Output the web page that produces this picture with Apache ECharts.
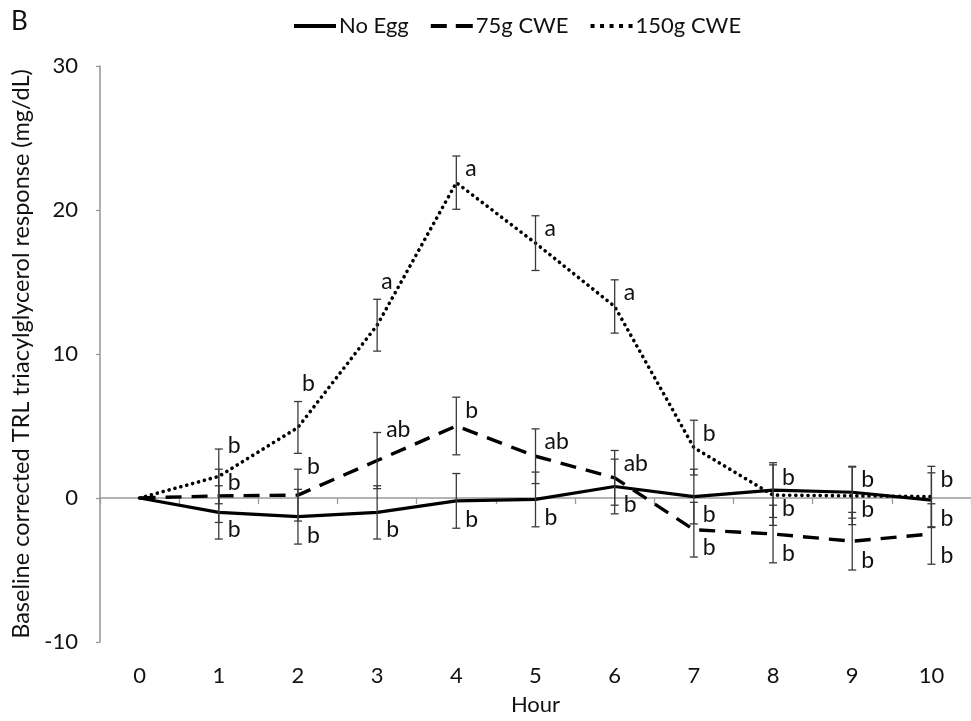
<!DOCTYPE html>
<html>
<head>
<meta charset="utf-8">
<script src="https://cdn.jsdelivr.net/npm/echarts@6/dist/echarts.min.js"></script>
<style>html,body{margin:0;padding:0;background:#fff}#c{width:971px;height:721px}</style>
</head>
<body>
<div id="c"></div>
<script>
const hours = ['0','1','2','3','4','5','6','7','8','9','10'];
const yTicks = [-10, 0, 10, 20, 30];

const noEgg  = [0, -1.0, -1.3, -1.0, -0.2, -0.1, 0.8, 0.1, 0.55, 0.4, -0.15];
const cwe75  = [0, 0.15, 0.2, 2.6, 5.0, 2.9, 1.4, -2.2, -2.5, -3.0, -2.5];
const cwe150 = [0, 1.5, 4.9, 12.0, 21.9, 17.7, 13.3, 3.5, 0.2, 0.15, 0.1];

const noEggSem  = [0, 1.85, 1.9, 1.85, 1.9, 1.9, 1.9, 1.9, 1.9, 1.8, 1.9];
const cwe75Sem  = [0, 1.85, 1.8, 1.95, 2.0, 1.9, 1.9, 1.9, 2.0, 2.0, 2.1];
const cwe150Sem = [0, 1.9, 1.8, 1.8, 1.85, 1.9, 1.85, 1.9, 2.1, 2.0, 2.1];

const noEggLetters  = ['', 'b','b','b','b','b','b','b','b','b','b'];
const cwe75Letters  = ['', 'b','b','ab','b','ab','ab','b','b','b','b'];
const cwe150Letters = ['', 'b','b','a','a','a','a','b','b','b','b'];

// where each letter sits relative to its error bar
const noEggPlace  = ['', 'below','below','below','below','below','below','below','below','below','below'];
const cwe75Place  = ['', 'upper','cap','cap','upper','upper','upper','below','below','below','below'];
const cwe150Place = ['', 'cap','above','above','upper','upper','upper','upper','upper','upper','upper'];

const FONT = 'Lato';
const FS = 22;
const chart = echarts.init(document.getElementById('c'));

function errSeries(id, values, sems, letters, places) {
  return {
    type: 'custom',
    name: id,
    xAxisIndex: 0, yAxisIndex: 0,
    silent: true,
    z: 5,
    data: values.map((v, i) => [i, v, sems[i]]),
    encode: { x: 0, y: 1 },
    renderItem(params, api) {
      const i = api.value(0), v = api.value(1), s = api.value(2);
      const top = api.coord([i, v + s]);
      const bot = api.coord([i, v - s]);
      const ch = [];
      const st = { stroke: '#3a3a3a', lineWidth: 1.3 };
      if (s > 0) {
        ch.push({ type: 'line', shape: { x1: top[0], y1: top[1], x2: bot[0], y2: bot[1] }, style: st });
        ch.push({ type: 'line', shape: { x1: top[0] - 4, y1: top[1], x2: top[0] + 4, y2: top[1] }, style: st });
        ch.push({ type: 'line', shape: { x1: bot[0] - 4, y1: bot[1], x2: bot[0] + 4, y2: bot[1] }, style: st });
      }
      const letter = letters[i];
      if (letter) {
        const p = places[i];
        let x = top[0] + 9, y;
        if (p === 'above') { y = top[1] - 18; x = top[0] + 4; }
        else if (p === 'cap') { y = top[1] - 3; }
        else if (p === 'upper') { y = top[1] + 13; }
        else { y = bot[1] - 9; }
        ch.push({ type: 'text', style: { text: letter, x, y, fill: '#111', font: '23px ' + FONT, textAlign: 'left', textVerticalAlign: 'middle' } });
      }
      return { type: 'group', children: ch };
    }
  };
}

const solidIcon  = 'path://M0,0h42v4h-42z';
const dashedIcon = 'path://M0,0h16v4h-16zM25,0h17v4h-17z';
const dottedIcon = 'path://M0,0h4v4h-4zM9.5,0h4v4h-4zM19,0h4v4h-4zM28.5,0h4v4h-4zM38,0h4v4h-4z';

chart.setOption({
  animation: false,
  backgroundColor: '#fff',
  textStyle: { fontFamily: FONT },
  graphic: [{ type: 'text', left: 11, top: 9, style: { text: 'B', font: '26px ' + FONT, fill: '#111' } }],
  legend: {
    data: [
      { name: 'No Egg', icon: solidIcon },
      { name: '75g CWE', icon: dashedIcon },
      { name: '150g CWE', icon: dottedIcon }
    ],
    top: 10, left: 289,
    itemWidth: 42, itemHeight: 4, itemGap: 22,
    itemStyle: { color: '#000', borderWidth: 0 },
    textStyle: { fontSize: FS, color: '#111', fontFamily: FONT, padding: [0, 0, 0, -2] }
  },
  grid: { left: 100, top: 66, bottom: 76, width: 874 },
  xAxis: [
    {
      type: 'category', data: hours, boundaryGap: true, position: 'bottom',
      axisLine: { show: false, onZero: false }, axisTick: { show: false },
      axisLabel: { margin: 23, fontSize: FS, color: '#111', fontFamily: FONT },
      name: 'Hour', nameLocation: 'middle', nameGap: 52,
      nameTextStyle: { fontSize: FS, color: '#111', fontFamily: FONT }
    },
    {
      type: 'category', data: hours, boundaryGap: true, position: 'top',
      axisLine: { show: true, onZero: true, lineStyle: { color: '#9a9a9a', width: 1.6 } },
      axisTick: { show: true, inside: true, length: 6, lineStyle: { color: '#9a9a9a', width: 1.3 } },
      axisLabel: { show: false }, splitLine: { show: false }
    }
  ],
  yAxis: {
    type: 'value', min: yTicks[0], max: yTicks[yTicks.length - 1], interval: 10,
    axisLine: { show: true, onZero: false, lineStyle: { color: '#9a9a9a', width: 1.6 } },
    axisTick: { show: true, length: 4, lineStyle: { color: '#9a9a9a', width: 1.3 } },
    axisLabel: { margin: 22, fontSize: FS, color: '#111', fontFamily: FONT },
    splitLine: { show: false },
    name: 'Baseline corrected TRL triacylglycerol response (mg/dL)',
    nameLocation: 'middle', nameGap: 67,
    nameTextStyle: { fontSize: 23.5, color: '#111', fontFamily: FONT }
  },
  series: [
    { type: 'line', name: 'No Egg', data: noEgg, symbol: 'none', z: 4,
      lineStyle: { color: '#000', width: 3.2, type: 'solid' }, itemStyle: { color: '#000' } },
    { type: 'line', name: '75g CWE', data: cwe75, symbol: 'none', z: 4,
      lineStyle: { color: '#000', width: 3.4, type: [16, 10] }, itemStyle: { color: '#000' } },
    { type: 'line', name: '150g CWE', data: cwe150, symbol: 'none', z: 4,
      lineStyle: { color: '#000', width: 3.6, type: [0.1, 6], cap: 'round' }, itemStyle: { color: '#000' } },
    errSeries('err-noegg', noEgg, noEggSem, noEggLetters, noEggPlace),
    errSeries('err-75', cwe75, cwe75Sem, cwe75Letters, cwe75Place),
    errSeries('err-150', cwe150, cwe150Sem, cwe150Letters, cwe150Place)
  ]
});
</script>
</body>
</html>
